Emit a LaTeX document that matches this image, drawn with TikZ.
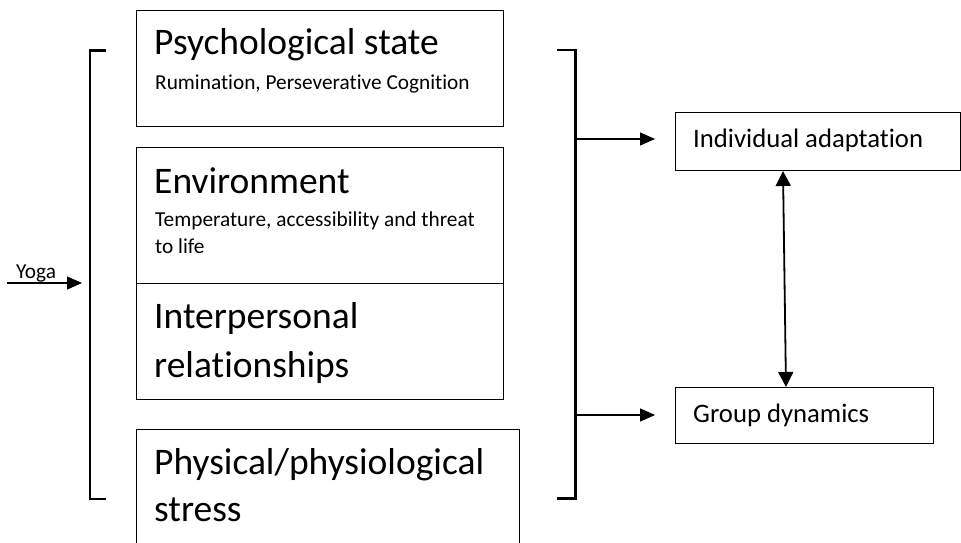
\documentclass[tikz,border=0pt]{standalone}
\usepackage{fontspec}
\setmainfont{Carlito}[Ligatures=NoCommon]
\usetikzlibrary{arrows.meta}
\begin{document}
\begin{tikzpicture}[x=1pt,y=-1pt,
  box/.style={draw,line width=1pt,rectangle,inner sep=0pt,anchor=north west},
  big/.style={anchor=base west,inner sep=0pt,font=\fontsize{37.5}{45}\selectfont},
  small/.style={anchor=base west,inner sep=0pt,font=\fontsize{21.3}{27}\selectfont},
  mid/.style={anchor=base west,inner sep=0pt,font=\fontsize{26.7}{32}\selectfont},
  brk/.style={line width=2.2pt},
  arr/.style={line width=1.1pt,-{Triangle[length=15pt,width=13pt]}},
  darr/.style={line width=1.8pt,{Triangle[length=15pt,width=15pt]}-{Triangle[length=15pt,width=15pt]}}]
\useasboundingbox (0,0) rectangle (961,543);
\clip (0,0) rectangle (961,543);

% boxes
\node[box,minimum width=367pt,minimum height=116pt] (ps) at (136,10) {};
\node[box,minimum width=367pt,minimum height=136pt] (env) at (136,147) {};
\node[box,minimum width=367pt,minimum height=116pt] (ip) at (136,283) {};
\node[box,minimum width=383pt,minimum height=140pt] (phys) at (136,429) {};
\node[box,minimum width=285pt,minimum height=58pt] (ia) at (675,112) {};
\node[box,minimum width=258pt,minimum height=56pt] (gd) at (675,387) {};

% texts
\node[big] (t1) at (154,55) {Psychological state};
\node[small] (t2) at (155,89) {Rumination, Perseverative Cognition};
\node[big] (t3) at (154,193) {Environment};
\node[small] (t4) at (155,226) {Temperature, accessibility and threat};
\node[small] (t5) at (155,253) {to life};
\node[big] (t6) at (154,328) {Interpersonal};
\node[big] (t7) at (154,377) {relationships};
\node[big] (t8) at (154,474) {Physical/physiological};
\node[big] (t9) at (154,521) {stress};
\node[mid] (t10) at (693,147) {Individual adaptation};
\node[mid] (t11) at (693,422) {Group dynamics};
\node[small] (yoga) at (16,278) {Yoga};

% brackets
\coordinate (lbt) at (106,50.5);
\coordinate (lbb) at (106,499);
\draw[brk] (lbt) -- ++(-16.3,0) |- (lbb);
\coordinate (rbt) at (557,50);
\coordinate (rbb) at (557,498.5);
\draw[brk] (rbt) -- ++(18.5,0) |- (rbb);

% arrows
\coordinate (ra1) at (575.5,139);
\coordinate (ra2) at (575.5,415);
\draw[arr] (ra1) -- ([xshift=-20pt]ra1 -| ia.west);
\draw[arr] (ra2) -- ([xshift=-20pt]ra2 -| gd.west);
\coordinate (ys) at (7,283);
\coordinate (yt) at (82,283);
\draw[arr] (ys) -- (yt);
\draw[darr] ([xshift=108pt]ia.south west) -- ([xshift=111pt]gd.north west);
\end{tikzpicture}
\end{document}
